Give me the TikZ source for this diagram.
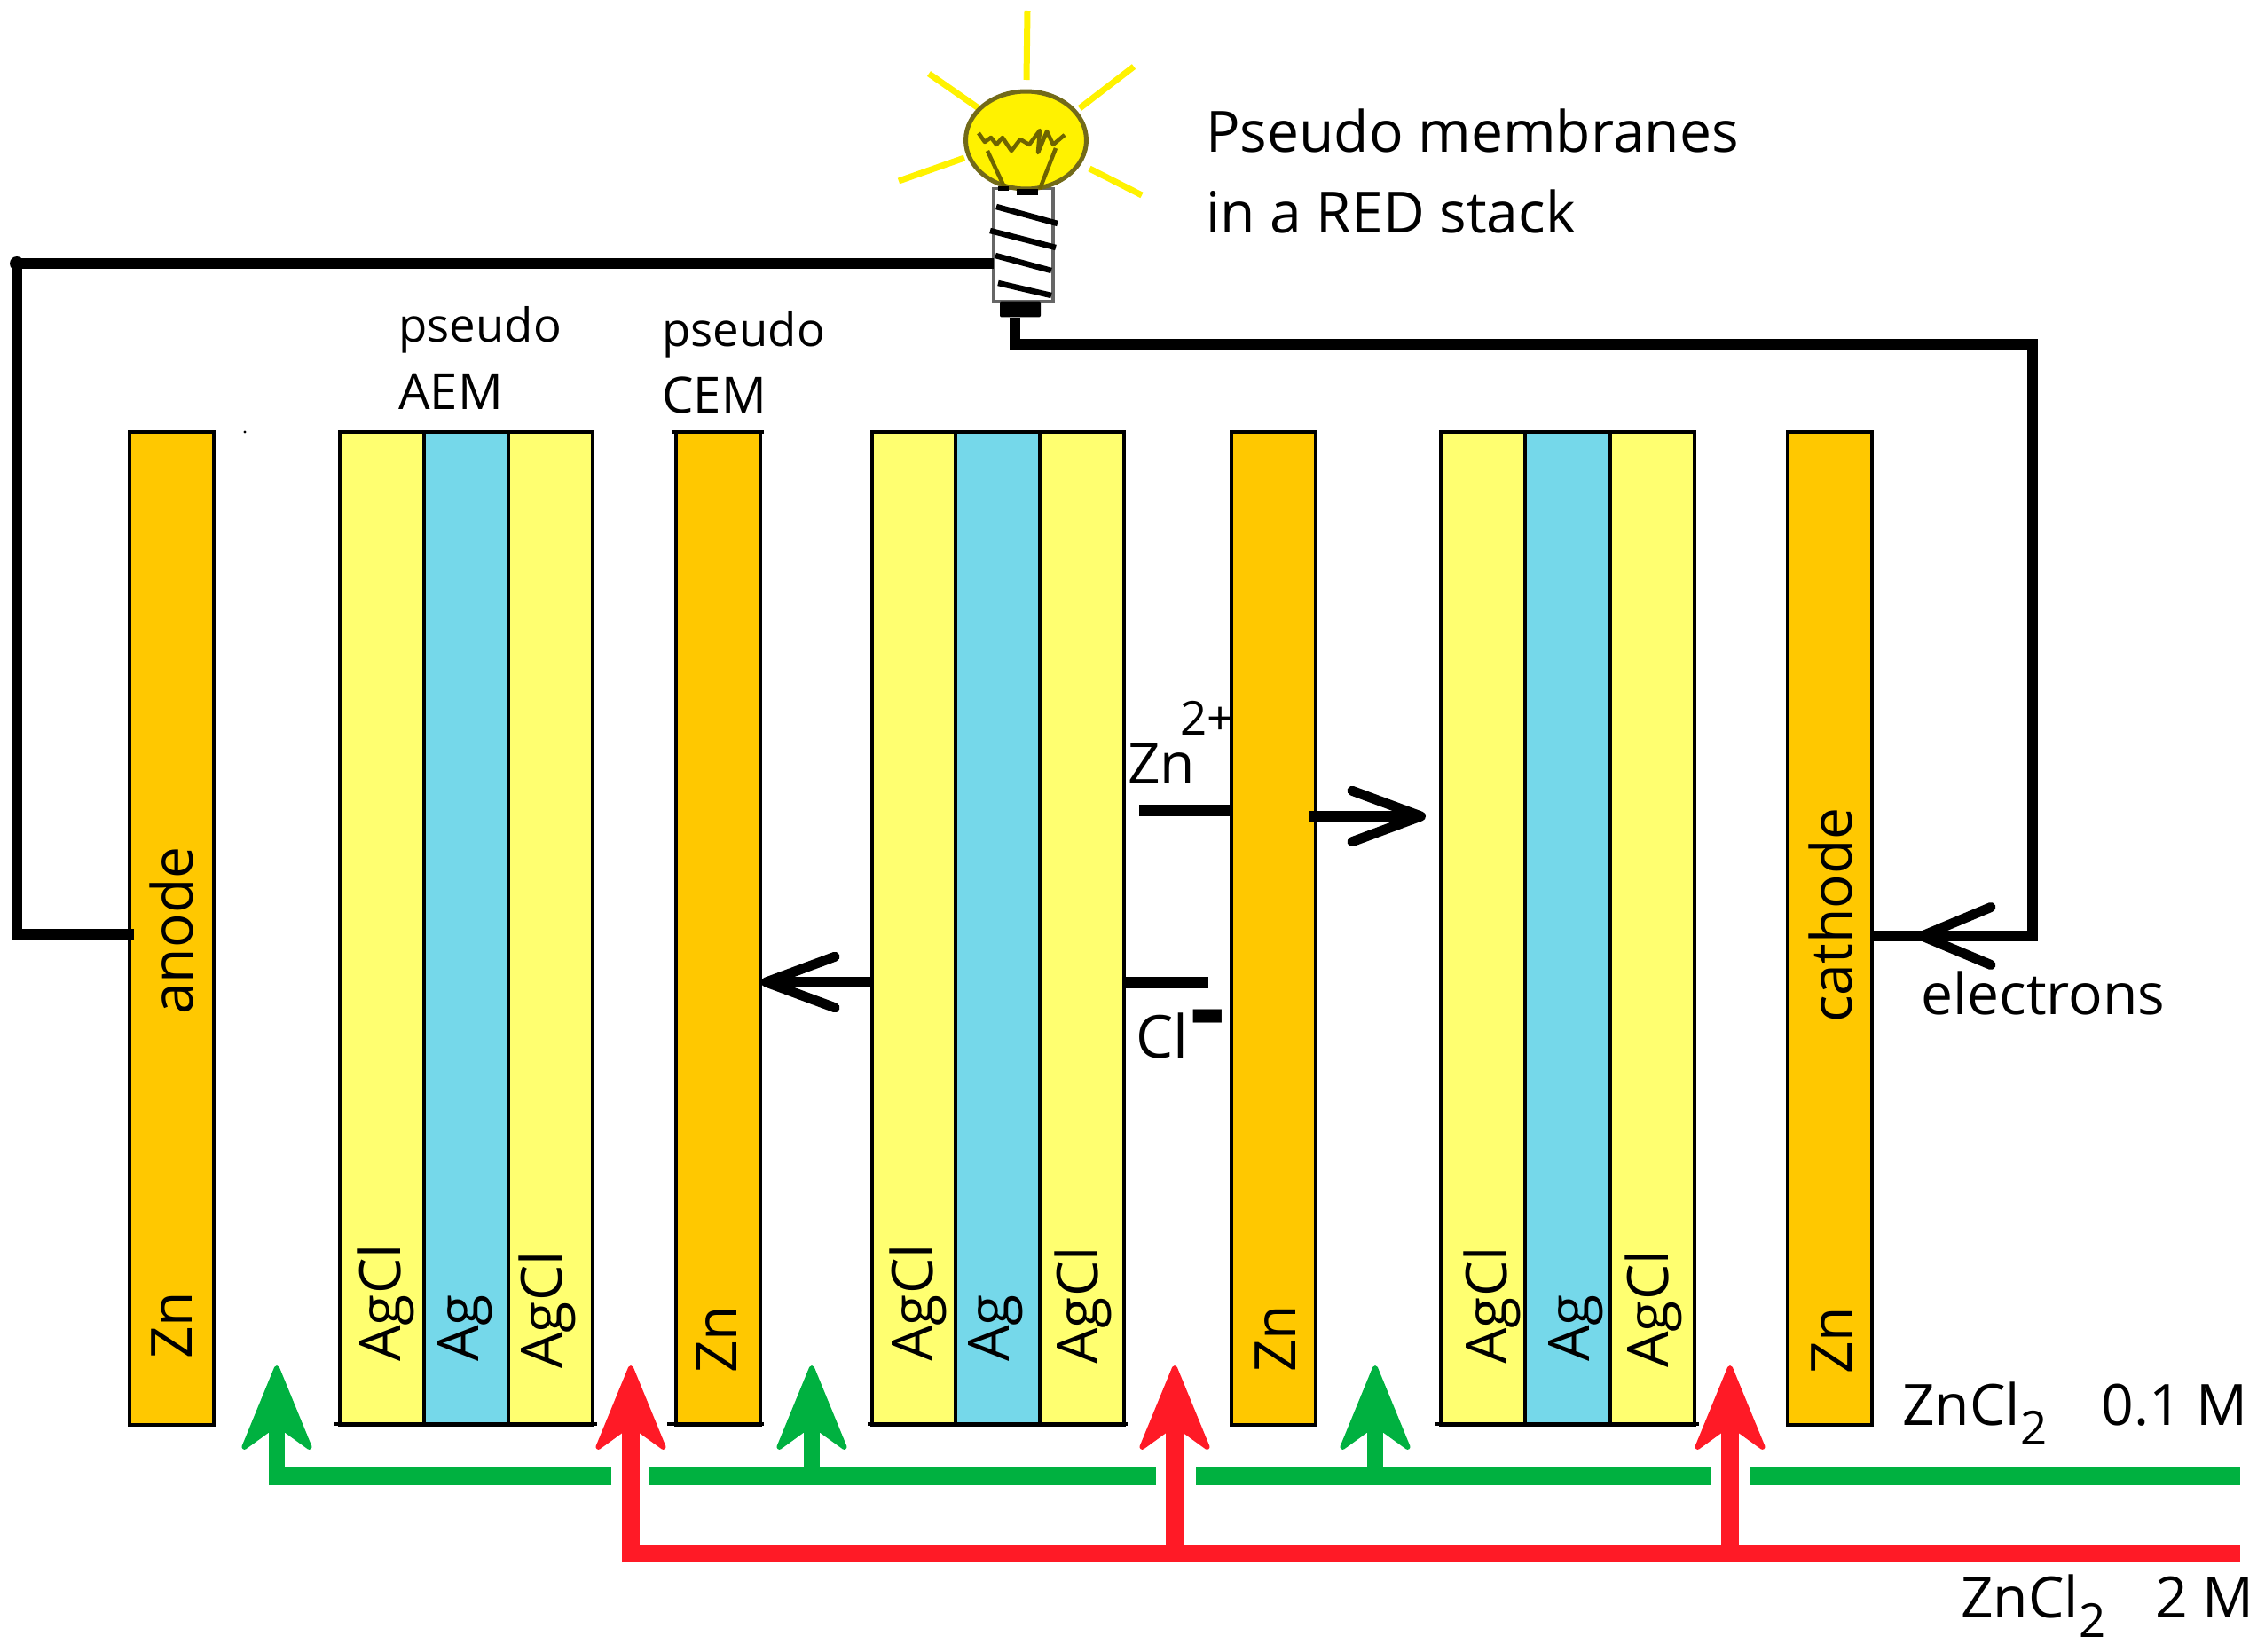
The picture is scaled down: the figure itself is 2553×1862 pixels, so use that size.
\documentclass[tikz,border=0pt]{standalone}
\usepackage{fontspec}
\setmainfont{Open Sans}
\usetikzlibrary{arrows.meta,shapes.geometric}
\definecolor{znc}{HTML}{FFC800}
\definecolor{agclc}{HTML}{FFFF70}
\definecolor{agc}{HTML}{75D8EA}
\definecolor{greenc}{HTML}{00B140}
\definecolor{redc}{HTML}{FF1A26}
\definecolor{bulbc}{HTML}{FFF200}
\definecolor{filc}{HTML}{6E6400}
\newcommand{\bigf}{\fontsize{36.5}{40}\selectfont}
\newcommand{\midf}{\fontsize{30}{34}\selectfont}
\tikzset{
  x=0.02cm,y=-0.02cm,
  strip/.style={rectangle,draw=black,line width=0.07cm,inner sep=0pt,outer sep=0pt,anchor=north west,
     minimum width=1.9cm,minimum height=22.38cm},
  zn/.style={strip,fill=znc},
  agcl/.style={strip,fill=agclc},
  ag/.style={strip,fill=agc},
  rule/.style={black,line width=0.08cm},
  vlab/.style={rotate=90,anchor=base west,inner sep=0pt,font=\bigf},
  lab/.style={anchor=base west,inner sep=0pt,font=\bigf},
  mlab/.style={anchor=base west,inner sep=0pt,font=\midf},
  wire/.style={black,line width=0.24cm,line join=miter},
  ionarrow/.style={black,line width=0.25cm,-{Straight Barb[round,length=1.55cm,width=1.15cm,line width=0.22cm]}},
  elarrow/.style={black,line width=0.24cm,-{Straight Barb[round,length=1.55cm,width=1.3cm,line width=0.22cm]}},
  gline/.style={greenc,line width=0.4cm},
  rline/.style={redc,line width=0.4cm},
  gup/.style={greenc,line width=0.37cm,-{Stealth[round,length=2.1cm,width=1.72cm,inset=0.62cm,line width=0.12cm]}},
  rup/.style={redc,line width=0.4cm,-{Stealth[round,length=2.1cm,width=1.72cm,inset=0.62cm,line width=0.12cm]}},
  ray/.style={bulbc,line width=0.14cm},
  thread/.style={black,line width=0.13cm},
  fil/.style={filc,line width=0.09cm,line join=round},
}
\begin{document}
\begin{tikzpicture}
\useasboundingbox (0,0) rectangle (2553,1862);
% --- stacks
\node[zn] (zna) at (146,487) {};
\node[agcl] (a1l) at (383,487) {};
\node[ag]   (a1m) at (478,487) {};
\node[agcl] (a1r) at (573,487) {};
\node[zn] (znb) at (762,487) {};
\node[agcl] (a2l) at (983,487) {};
\node[ag]   (a2m) at (1077,487) {};
\node[agcl] (a2r) at (1172,487) {};
\node[zn] (znc) at (1388,487) {};
\node[agcl] (a3l) at (1624,487) {};
\node[ag]   (a3m) at (1719,487) {};
\node[agcl] (a3r) at (1815,487) {};
\node[zn] (znd) at (2015,487) {};
% --- end rules of the bars
\draw[rule] (757,487) -- (861,487);
\foreach \l/\r in {377/673,752/861,978/1271,1618/1915}{
  \draw[rule] (\l,1605) -- (\r,1605);
}
\fill[black] (276,487) circle[radius=1.6];
% --- text on the bars
\node[vlab] at (216,1532) {Zn};
\node[vlab] at (217,1144) {anode};
\node[vlab] at (451,1535) {AgCl};
\node[vlab] at (539,1535) {Ag};
\node[vlab] at (633,1543) {AgCl};
\node[vlab] at (830,1548) {Zn};
\node[vlab] at (1051,1535) {AgCl};
\node[vlab] at (1137,1535) {Ag};
\node[vlab] at (1237,1538) {AgCl};
\node[vlab] at (1460,1547) {Zn};
\node[vlab] at (1698,1538) {AgCl};
\node[vlab] at (1791,1535) {Ag};
\node[vlab] at (1880,1542) {AgCl};
\node[vlab] at (2087,1549) {Zn};
\node[vlab] at (2087,1153) {cathode};
% --- labels
\node[lab] at (1359,172) {Pseudo membranes};
\node[lab] at (1359,263) {in a RED stack};
\node[mlab] at (449,385) {pseudo};
\node[mlab,font=\fontsize{32}{34}\selectfont] at (449,461) {AEM};
\node[mlab] at (746,390) {pseudo};
\node[mlab,font=\fontsize{32}{34}\selectfont] at (746,465) {CEM};
\node[lab] at (1271,883) {Zn};
\node[mlab] at (1330,828) {2+};
\node[lab,font=\fontsize{38}{40}\selectfont] at (1280,1192) {Cl};
\node[anchor=base west,inner sep=0pt,font=\fontsize{70}{70}\selectfont\bfseries] at (1341,1178) {-};
\node[lab] at (2165,1143) {electrons};
\node[lab] at (2144,1606) {ZnCl\raisebox{-13pt}{\midf 2}\hspace{35pt}0.1 M};
\node[lab] at (2210,1823) {ZnCl\raisebox{-13pt}{\midf 2}\hspace{32pt}2 M};
% --- lamp
\foreach \a/\b/\c/\d in {1158/12/1157/90,1278/75/1217/122,1287/220/1228/190,1013/204/1087/178,1047/83/1103/122}{
  \draw[ray] (\a,\b) -- (\c,\d);
}
\node[rectangle,draw=black!60,line width=0.07cm,fill=white,inner sep=0pt,minimum width=1.34cm,minimum height=2.54cm] (base) at (1153.5,276) {};
\node[ellipse,draw=filc!80!gray,line width=0.1cm,fill=bulbc,inner sep=0pt,minimum width=2.72cm,minimum height=2.2cm] (bulb) at (1156.5,158) {};
\draw[fil] (1103,150) -- (1110,160) -- (1117,155) -- (1123,163) -- (1130,155) -- (1140,170) -- (1150,157) -- (1160,163) -- (1172,147) -- (1170,172) -- (1180,148) -- (1187,163) -- (1200,152);
\draw[fil] (1113,170) -- (1133,213);
\draw[fil] (1190,167) -- (1172,213);
\draw[black,line width=0.1cm] (1125,213) -- (1137,213);
\draw[black,line width=0.14cm] (1146,217) -- (1170,217);
\draw[thread] (1123,233) -- (1192,252);
\draw[thread] (1116,260) -- (1190,279);
\draw[thread] (1122,288) -- (1185,305);
\draw[thread] (1125,319) -- (1185,333);
\node[rectangle,fill=black,inner sep=0pt,rounded corners=0.04cm,minimum width=0.92cm,minimum height=0.36cm] (contact) at (1150,348.5) {};
% --- circuit
\coordinate (anodeTap) at (151,1053);
\coordinate (cornerL) at (19,1053);
\coordinate (cornerT) at (19,297);
\coordinate (lampL) at (1120,297);
\coordinate (lampR) at (1144,358);
\coordinate (cornerB) at (1144,388);
\coordinate (cornerR) at (2291,388);
\coordinate (cornerC) at (2291,1055);
\coordinate (cathTap) at (2110,1055);
\coordinate (elStart) at (2245,1055);
\coordinate (elTip) at (2161,1055);
\draw[wire] (anodeTap) -- (cornerL) -- (cornerT) -- (lampL);
\fill[black] (cornerT) circle[radius=8];
\draw[wire] (lampR) -- (cornerB) -- (cornerR) -- (cornerC) -- (cathTap);
\draw[elarrow] (elStart) -- (elTip);
% --- ion arrows
\coordinate (zns) at (1284,913);
\coordinate (zne) at (1388,913);
\coordinate (zn2s) at (1476,920);
\coordinate (zn2e) at (1607,920);
\coordinate (cls) at (1266,1107);
\coordinate (cle) at (1362,1107);
\coordinate (cl2s) at (983,1107);
\coordinate (cl2e) at (858,1107);
\draw[black,line width=0.26cm] (zns) -- (zne);
\draw[ionarrow] (zn2s) -- (zn2e);
\draw[black,line width=0.26cm] (cls) -- (cle);
\draw[ionarrow] (cl2s) -- (cl2e);
% --- feeds
\coordinate (g0) at (312,1664);
\coordinate (g0t) at (312,1539);
\coordinate (g0e) at (689,1664);
\coordinate (g1s) at (732,1664);
\coordinate (g1e) at (1303,1664);
\coordinate (g2s) at (1348,1664);
\coordinate (g2e) at (1929,1664);
\coordinate (g3s) at (1973,1664);
\coordinate (g3e) at (2525,1664);
\coordinate (g1b) at (915,1664);
\coordinate (g1t) at (915,1539);
\coordinate (g2b) at (1550,1664);
\coordinate (g2t) at (1550,1539);
\coordinate (r0) at (711,1751);
\coordinate (r0t) at (711,1539);
\coordinate (r1b) at (1324,1751);
\coordinate (r1t) at (1324,1539);
\coordinate (r2b) at (1950,1751);
\coordinate (r2t) at (1950,1539);
\coordinate (rend) at (2525,1751);
\draw[gline] (g0e) -- (g0);
\draw[gup] ([yshift=-0.2cm]g0) -- (g0t);
\draw[gline] (g1s) -- (g1e);
\draw[gline] (g2s) -- (g2e);
\draw[gline] (g3s) -- (g3e);
\draw[gup] (g1b) -- (g1t);
\draw[gup] (g2b) -- (g2t);
\draw[rline] (rend) -- (r0);
\draw[rup] ([yshift=-0.2cm]r0) -- (r0t);
\draw[rup] (r1b) -- (r1t);
\draw[rup] (r2b) -- (r2t);
\end{tikzpicture}
\end{document}
